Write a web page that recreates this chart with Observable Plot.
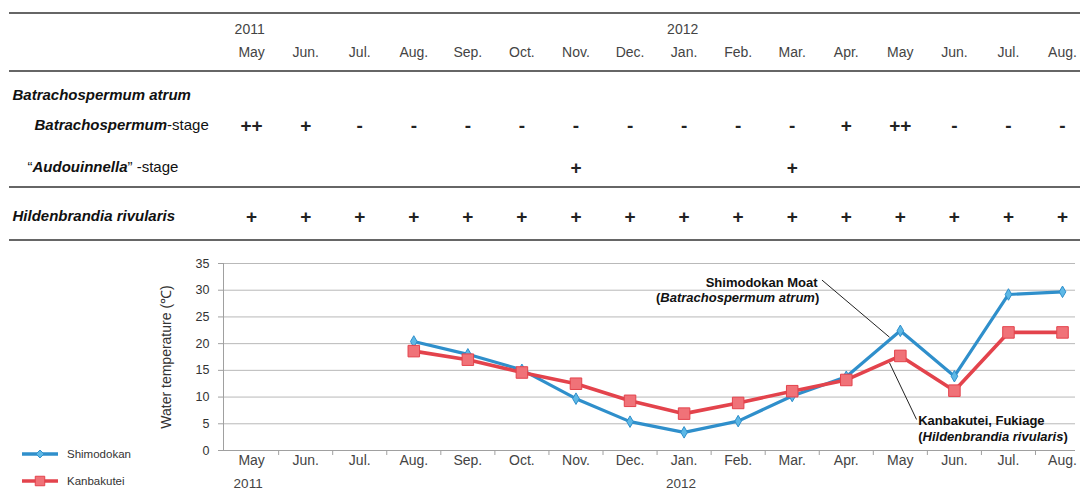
<!DOCTYPE html>
<html><head><meta charset="utf-8">
<script src="https://cdn.jsdelivr.net/npm/d3@7"></script>
<script src="https://cdn.jsdelivr.net/npm/@observablehq/plot@0.6"></script>
<style>body{margin:0;background:#fff}</style>
</head><body><div id="chart"></div>
<script>
// ---- data ----
const months = ["May","Jun.","Jul.","Aug.","Sep.","Oct.","Nov.","Dec.","Jan.","Feb.","Mar.","Apr.","May","Jun.","Jul.","Aug."];
const yearLabels = ["2011","2012"];
const yearStart = [0, 8];
const shimodokan = [null,null,null,20.4,18.0,15.1,9.7,5.4,3.4,5.5,10.2,13.8,22.4,13.9,29.2,29.7];
const kanbakutei = [null,null,null,18.6,17.0,14.6,12.5,9.3,6.9,8.9,11.1,13.2,17.7,11.2,22.1,22.1];
const batrachospermumStage = ["++","+","-","-","-","-","-","-","-","-","-","+","++","-","-","-"];
const audouinellaStage = ["","","","","","","+","","","","+","","","","",""];
const hildenbrandiaRow = ["+","+","+","+","+","+","+","+","+","+","+","+","+","+","+","+"];
const rowLabels = ["*Batrachospermum atrum*","*Batrachospermum*-stage","“*Audouinnella*” -stage","*Hildenbrandia rivularis*"];
const seriesNames = ["Shimodokan","Kanbakutei"];
const tempTicks = [0,5,10,15,20,25,30,35];
const yLabel = "Water temperature (℃)";
const annotations = [
  {name: "Shimodokan Moat", sp: "(*Batrachospermum atrum*)"},
  {name: "Kanbakutei, Fukiage", sp: "(*Hildenbrandia rivularis*)"}
];

// ---- layout ----
const W = 1084, H = 492, mT = 263, mB = 42, mL = 223, mR = 9;
const xDomain = [-0.52, 15.24];
const idx = (d, i) => i;
const fromTop = y => y - mT;
const blue = "#2f8fcb", red = "#e3434c";
const font = "'Liberation Sans', Arial, sans-serif";

const rowLabel = (i, x, y) => Plot.text([rowLabels[i]], {
  text: d => d, frameAnchor: "top-left", textAnchor: "start", lineAnchor: "middle",
  dx: x - mL, dy: fromTop(y), fontSize: 15, fill: "#111"
});
const symRow = (arr, y) => Plot.text(arr, {
  x: idx, text: d => d, frameAnchor: "top", lineAnchor: "middle", dy: fromTop(y),
  fontSize: 19, fontWeight: "bold", fill: "#222"
});

const chart = Plot.plot({
  width: W, height: H,
  marginTop: mT, marginBottom: mB, marginLeft: mL, marginRight: mR,
  x: {type: "linear", domain: xDomain},
  y: {domain: [0, 35]},
  style: {fontFamily: font, fontSize: "13px", background: "#fff", color: "#333"},
  marks: [
    Plot.gridY(tempTicks.slice(1), {stroke: "#b9b9b9", strokeOpacity: 1}),
    Plot.ruleY([0], {stroke: "#a0a0a0"}),
    Plot.ruleX([xDomain[0]], {stroke: "#a0a0a0"}),
    Plot.axisY(tempTicks, {tickSize: 5, tickPadding: 9, label: null, fontSize: 12.5, stroke: "#a0a0a0", fill: "#333"}),
    Plot.axisX(d3.range(16), {tickSize: 0, tickPadding: 5, label: null, tickFormat: i => months[i], fontSize: 14, fill: "#444"}),
    Plot.axisX(d3.range(0.5, 15, 1), {tickSize: 5, tickFormat: () => "", label: null, stroke: "#a0a0a0"}),
    Plot.text([yLabel], {text: d => d, frameAnchor: "left", textAnchor: "middle", lineAnchor: "middle", dx: 166 - mL, rotate: -90, fontSize: 14, fill: "#333"}),
    Plot.text(yearLabels, {x: (d, i) => yearStart[i], text: d => d, textAnchor: "start", lineAnchor: "middle", dx: -18, frameAnchor: "bottom", dy: 483 - (H - mB), fontSize: 13.5, fill: "#444"}),

    // series
    Plot.line(shimodokan, {x: idx, y: d => d, stroke: blue, strokeWidth: 3.2}),
    Plot.line(kanbakutei, {x: idx, y: d => d, stroke: red, strokeWidth: 3.6}),
    Plot.dot(shimodokan, {x: idx, y: d => d, filter: d => d != null, symbol: "diamond", r: 3.5, fill: "#5db8e6", stroke: blue, strokeWidth: 1}),
    Plot.dot(kanbakutei, {x: idx, y: d => d, filter: d => d != null, symbol: "square", r: 6.5, fill: "#f07278", stroke: red, strokeWidth: 1}),

    // annotations
    Plot.link([{x1: 10.55, y1: 31.9, x2: 11.8, y2: 21.2}, {x1: 11.8, y1: 16.4, x2: 12.3, y2: 5.8}],
      {x1: "x1", y1: "y1", x2: "x2", y2: "y2", stroke: "#222", strokeWidth: 1}),
    Plot.text(annotations.slice(0, 1), {x: 10.47, y: 31.4, text: d => d.name, textAnchor: "end", fontWeight: "bold", fontSize: 13, fill: "#111"}),
    Plot.text(annotations.slice(0, 1), {x: 10.5, y: 28.5, text: d => d.sp, textAnchor: "end", fontWeight: "bold", fontSize: 13, fill: "#111"}),
    Plot.text(annotations.slice(1), {x: 12.33, y: 5.6, text: d => d.name, textAnchor: "start", fontWeight: "bold", fontSize: 13, fill: "#111"}),
    Plot.text(annotations.slice(1), {x: 12.33, y: 2.6, text: d => d.sp, textAnchor: "start", fontWeight: "bold", fontSize: 13, fill: "#111"}),

    // table header
    Plot.text(yearLabels, {x: (d, i) => yearStart[i], text: d => d, textAnchor: "start", lineAnchor: "middle", dx: -17, frameAnchor: "top", dy: fromTop(29), fontSize: 14, fill: "#444"}),
    Plot.text(months, {x: idx, text: d => d, frameAnchor: "top", lineAnchor: "middle", dy: fromTop(52), fontSize: 14, fill: "#444"}),
    // table rows
    rowLabel(0, 12, 95),
    rowLabel(1, 34, 125),
    rowLabel(2, 27, 167),
    rowLabel(3, 12, 216),
    symRow(batrachospermumStage, 125),
    symRow(audouinellaStage, 167),
    symRow(hildenbrandiaRow, 216)
  ]
});

// rich text: *...* = bold italic
const NS = "http://www.w3.org/2000/svg";
chart.querySelectorAll("text").forEach(t => {
  const s = t.textContent;
  if (!s.includes("*")) return;
  t.textContent = "";
  s.split("*").forEach((part, k) => {
    if (!part) return;
    const ts = document.createElementNS(NS, "tspan");
    ts.textContent = part;
    if (k % 2) { ts.setAttribute("font-style", "italic"); ts.setAttribute("font-weight", "bold"); }
    t.appendChild(ts);
  });
});

const svg = d3.select(chart);
// table rules
svg.append("g").selectAll("line").data([13, 71, 187, 240]).join("line")
  .attr("x1", 9).attr("x2", 1080).attr("y1", d => d).attr("y2", d => d)
  .attr("stroke", "#666").attr("stroke-width", 2);
// legend
const lg = svg.append("g").attr("font-family", font).attr("font-size", 11.5).attr("fill", "#333").attr("text-anchor", "start");
const lgRows = [{name: seriesNames[0], c: blue, f: "#5db8e6", y: 454, sym: d3.symbolDiamond2 || d3.symbolDiamond, s: 40},
                {name: seriesNames[1], c: red, f: "#f07278", y: 481, sym: d3.symbolSquare, s: 90}];
lgRows.forEach(r => {
  lg.append("line").attr("x1", 22).attr("x2", 58).attr("y1", r.y).attr("y2", r.y).attr("stroke", r.c).attr("stroke-width", 3.5);
  lg.append("path").attr("d", d3.symbol(r.sym, r.s)()).attr("transform", `translate(40,${r.y})`).attr("fill", r.f).attr("stroke", r.c);
  lg.append("text").attr("x", 67).attr("y", r.y).attr("dy", "0.35em").text(r.name);
});

document.getElementById("chart").appendChild(chart);
</script>
</body></html>
